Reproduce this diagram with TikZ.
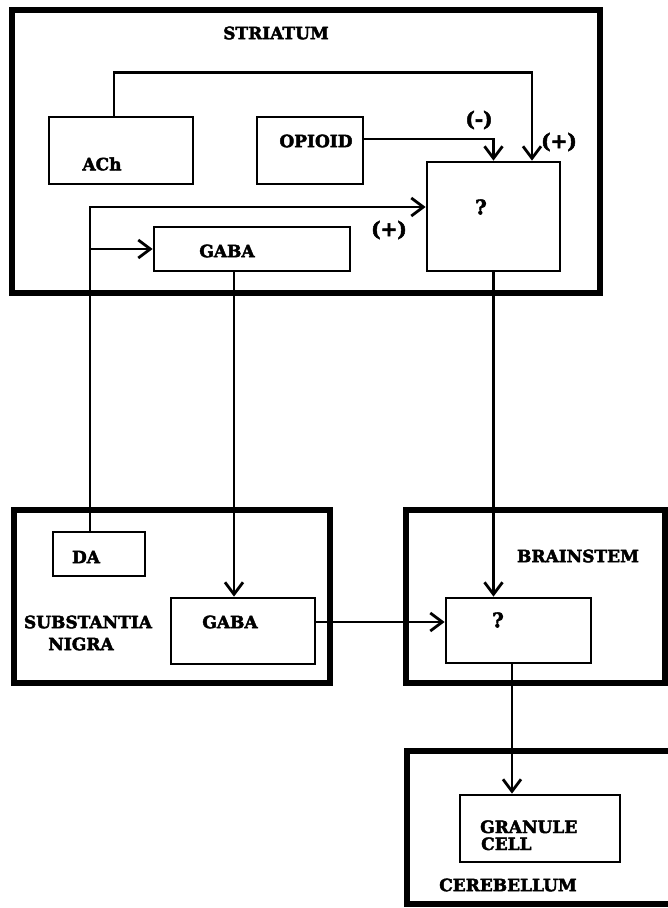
\documentclass[tikz,border=0pt]{standalone}
\usepackage{fontspec}
\newfontfamily\labfont{DejaVu Serif}[BoldFeatures={FakeBold=2.5}]
\usetikzlibrary{arrows.meta}
\tikzset{
  region/.style={draw, line width=6pt, rectangle, inner sep=0pt},
  cellbox/.style={draw, line width=2.8pt, rectangle, inner sep=0pt},
  lab/.style={inner sep=0pt, font=\labfont\bfseries\fontsize{17}{17}\selectfont},
  biglab/.style={inner sep=0pt, font=\labfont\bfseries\fontsize{20}{20}\selectfont},
  arr/.style={line width=2.6pt, -{Straight Barb[length=12pt,width=18pt,line width=2.8pt]}},
}
\begin{document}
\begin{tikzpicture}[x=1pt,y=-1pt]
\useasboundingbox (0,0) rectangle (668,908);
\fill[white] (0,0) rectangle (668,908);
\clip (0,0) rectangle (668,908);
% regions
\node[region, minimum width=588pt, minimum height=283pt] (striatum) at (306,151.5) {};
\node[region, minimum width=316pt, minimum height=173pt] (nigra) at (172,596.5) {};
\node[region, minimum width=259pt, minimum height=173pt] (brainstem) at (535.5,596.5) {};
\node[region, minimum width=264pt, minimum height=153pt] (cerebellum) at (539,827.5) {};
% cell boxes
\node[cellbox, minimum width=144pt, minimum height=67pt] (ach) at (121,150.5) {};
\node[cellbox, minimum width=106pt, minimum height=67pt] (opioid) at (310,150.5) {};
\node[cellbox, minimum width=133pt, minimum height=109pt] (q1) at (493.5,216.5) {};
\node[cellbox, minimum width=196pt, minimum height=44pt] (gabaS) at (252,249) {};
\node[cellbox, minimum width=92pt, minimum height=44pt] (da) at (99,554) {};
\node[cellbox, minimum width=144pt, minimum height=66pt] (gabaN) at (243,631) {};
\node[cellbox, minimum width=145pt, minimum height=65pt] (q2) at (518.5,630.5) {};
\node[cellbox, minimum width=160pt, minimum height=67pt] (gran) at (540,828.5) {};
% texts
\node[lab] (tstr) at (276,33) {STRIATUM};
\node[lab] (tach) at (102,164) {ACh};
\node[lab] (topi) at (316,141) {OPIOID};
\node[biglab] (tq1) at (481,207) {?};
\node[lab] (tgs) at (227,251) {GABA};
\node[biglab] (tminus) at (479,120) {(-)};
\node[biglab] (tplus1) at (559,142) {(+)};
\node[biglab] (tplus2) at (389,230) {(+)};
\node[lab] (tda) at (86,557) {DA};
\node[lab] (tsub) at (88,622) {SUBSTANTIA};
\node[lab] (tnig) at (81,644) {NIGRA};
\node[lab] (tgn) at (230,622) {GABA};
\node[lab] (tbs) at (578,556) {BRAINSTEM};
\node[biglab] (tq2) at (498,620) {?};
\node[lab, anchor=base west] (tgran) at (480,833) {GRANULE};
\node[lab, anchor=base west] (tcell) at (481,850) {CELL};
\node[lab] (tcer) at (508,885) {CEREBELLUM};
% connectors
\draw[arr] ([xshift=-7pt]ach.north) -- ++(0,-43) -| ([xshift=38.5pt]q1.north);
\draw[arr] ([yshift=11.5pt]opioid.east) -| (q1.north);
\draw[arr] ([xshift=-9pt]da.north) |- ([yshift=9.5pt]q1.west);
\coordinate (br) at ([xshift=-9pt]da.north |- gabaS.west);
\draw[arr] (br) -- (gabaS.west);
\draw[arr] ([xshift=-18pt]gabaS.south) -- ([xshift=-18pt]gabaS.south |- gabaN.north);
\draw[arr] (q1.south) -- (q1.south |- q2.north);
\draw[arr] ([yshift=9pt]gabaN.east) -- ([yshift=9pt]gabaN.east -| q2.west);
\draw[arr] ([xshift=-6.5pt]q2.south) -- ([xshift=-6.5pt]q2.south |- gran.north);
\end{tikzpicture}
\end{document}
